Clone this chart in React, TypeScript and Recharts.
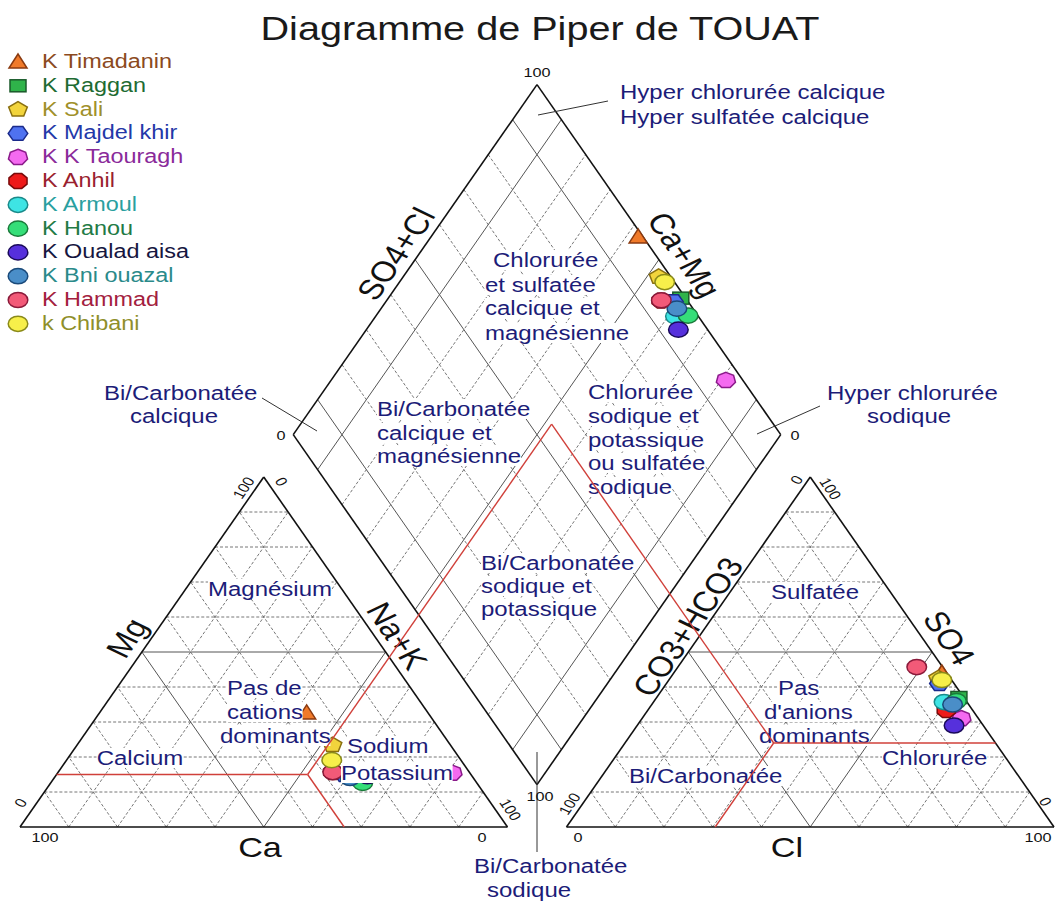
import { ReferenceLine, Scatter, ScatterChart, XAxis, YAxis } from 'recharts';

// ---- samples (% meq) ----
const sampleNames = [
  'K Timadanin', 'K Raggan', 'K Sali', 'K Majdel khir', 'K K Taouragh', 'K Anhil',
  'K Armoul', 'K Hanou', 'K Oualad aisa', 'K Bni ouazal', 'K Hammad', 'k Chibani',
];
const caPct = [24.9, 24.5, 24.2, 26, 3.6, 28, 24.5, 23.4, 21.5, 25.3, 28, 26.5];
const mgPct = [32.6, 15.5, 23.4, 15, 15.4, 15.7, 14, 12.6, 14.5, 14, 15.7, 19.1];
const naKPct = [42.5, 60, 52.4, 59, 81, 56.3, 61.5, 64, 64, 60.7, 56.3, 54.4];
const hco3Pct = [1, 1, 2.5, 3, 3.5, 5.4, 4.7, 2, 6, 3.3, 5.3, 2];
const so4Pct = [44, 37, 42.5, 41, 31, 33.4, 35.7, 36, 29, 35, 45.7, 42];
const clPct = [55, 62, 55, 56, 65.5, 61.2, 59.6, 62, 65, 61.7, 49, 56];

// classification limits (red lines)
const limitMg = 15;
const limitCa = 33.5;
const limitNaK = 51.5;
const limitSO4 = 24;
const limitCl = 30.5;
const limitHCO3 = 45.5;
const gridSteps = [10, 20, 30, 40, 50, 60, 70, 80, 90];
const diamondSolid = [10, 50, 90];

// ---- marker styles ----
const markerKind = ['triangle', 'square', 'pentagon', 'hexagon', 'heptagon', 'octagon', 'circle', 'circle', 'circle', 'circle', 'circle', 'circle'];
const markerFill = ['#f07a2a', '#2fb34a', '#f2d43c', '#4f72f0', '#f46af0', '#ee1a1a', '#3ee4e4', '#35de78', '#5630dc', '#4a8ec8', '#f25a78', '#f7ef4a'];
const markerStroke = ['#8a3a10', '#1a5a2a', '#8a7010', '#1a2a8a', '#8a1a8a', '#7a0a0a', '#1a8a8a', '#1a7a3a', '#1a0a5a', '#1a4a7a', '#8a1a3a', '#8a8a1a'];
const legendColor = ['#8b4a1e', '#1e6b32', '#a0902a', '#2438a8', '#8a2a9a', '#9a1f2f', '#2a9f9f', '#237a45', '#16163f', '#2a8a8a', '#a3203e', '#8f8f2a'];

// ---- geometry ----
const W = 1056;
const H = 904;
const ORIGIN_X = 20;
const BASE_Y = 827;
const PX_X = 4.875;
const PX_Y = 3.5;
const GAP = 12.1;
const X_DOMAIN = [-ORIGIN_X / PX_X, (W - ORIGIN_X) / PX_X];
const Y_DOMAIN = [-(H - BASE_Y) / PX_Y, BASE_Y / PX_Y];

type P = { x: number; y: number };
const cat = (ca: number, mg: number, nak: number): P => {
  const t = ca + mg + nak;
  return { x: ((nak + mg / 2) / t) * 100, y: (mg / t) * 100 };
};
const ani = (co3: number, so4: number, cl: number): P => {
  const t = co3 + so4 + cl;
  return { x: 100 + GAP + ((cl + so4 / 2) / t) * 100, y: (so4 / t) * 100 };
};
const dia = (nak: number, sc: number): P => ({ x: 50 + GAP / 2 + (nak + sc) / 2, y: 100 + GAP - nak + sc });

type Seg = { a: P; b: P; kind: 'dash' | 'mid' | 'edge' };
const segs: Seg[] = [];
gridSteps.forEach((v) => {
  const kind = v === 50 ? 'mid' : 'dash';
  segs.push({ a: cat(100 - v, v, 0), b: cat(0, v, 100 - v), kind });
  segs.push({ a: cat(v, 0, 100 - v), b: cat(v, 100 - v, 0), kind });
  segs.push({ a: cat(100 - v, 0, v), b: cat(0, 100 - v, v), kind });
  segs.push({ a: ani(100 - v, v, 0), b: ani(0, v, 100 - v), kind });
  segs.push({ a: ani(v, 0, 100 - v), b: ani(v, 100 - v, 0), kind });
  segs.push({ a: ani(100 - v, 0, v), b: ani(0, 100 - v, v), kind });
  const dk = diamondSolid.includes(v) ? 'mid' : 'dash';
  segs.push({ a: dia(v, 0), b: dia(v, 100), kind: dk });
  segs.push({ a: dia(0, v), b: dia(100, v), kind: dk });
});
[
  [cat(100, 0, 0), cat(0, 0, 100)], [cat(100, 0, 0), cat(0, 100, 0)], [cat(0, 100, 0), cat(0, 0, 100)],
  [ani(100, 0, 0), ani(0, 0, 100)], [ani(100, 0, 0), ani(0, 100, 0)], [ani(0, 100, 0), ani(0, 0, 100)],
  [dia(0, 0), dia(100, 0)], [dia(100, 0), dia(100, 100)], [dia(100, 100), dia(0, 100)], [dia(0, 100), dia(0, 0)],
].forEach(([a, b]) => segs.push({ a, b, kind: 'edge' }));

const J = cat(limitCa, limitMg, limitNaK);
const apex = dia(limitNaK, limitSO4 + limitCl);
const K = ani(limitHCO3, limitSO4, limitCl);
const redSegs: P[][] = [
  [cat(100 - limitMg, limitMg, 0), J], [J, cat(limitCa, 0, 100 - limitCa)], [J, apex], [apex, K],
  [K, ani(100 - limitCl, 0, limitCl)], [K, ani(0, limitSO4, 100 - limitSO4)],
];

const segStyle = {
  dash: { stroke: '#666', strokeWidth: 0.9, strokeDasharray: '3 2' },
  mid: { stroke: '#555', strokeWidth: 1 },
  edge: { stroke: '#111', strokeWidth: 1.6 },
};

const samplePoints = sampleNames.map((_, i) => [
  cat(caPct[i], mgPct[i], naKPct[i]),
  ani(hco3Pct[i], so4Pct[i], clPct[i]),
  dia(naKPct[i], so4Pct[i] + clPct[i]),
]);

function Marker({ kind, cx, cy, fill, stroke }: { kind: string; cx: number; cy: number; fill: string; stroke: string }) {
  const common = { fill, stroke, strokeWidth: 1.5 };
  if (kind === 'circle') return <ellipse cx={cx} cy={cy} rx={9.8} ry={7.6} {...common} />;
  if (kind === 'square') return <rect x={cx - 8} y={cy - 6} width={16} height={12} {...common} />;
  if (kind === 'triangle')
    return <polygon points={`${cx},${cy - 8} ${cx + 9},${cy + 6} ${cx - 9},${cy + 6}`} {...common} />;
  const n = kind === 'pentagon' ? 5 : kind === 'hexagon' ? 6 : kind === 'heptagon' ? 7 : 8;
  const off = n === 6 ? 0 : n === 8 ? 22.5 : -90;
  const pts = Array.from({ length: n }, (_, k) => {
    const ang = ((off + (k * 360) / n) * Math.PI) / 180;
    return `${cx + 9.8 * Math.cos(ang)},${cy + 8 * Math.sin(ang)}`;
  }).join(' ');
  return <polygon points={pts} {...common} />;
}

function Txt({
  x, y, text, size = 20, color = '#1c1c78', anchor = 'start', rotate = 0, bg = false,
}: { x: number; y: number; text: string; size?: number; color?: string; anchor?: string; rotate?: number; bg?: boolean }) {
  const tx = anchor === 'middle' ? '-50%' : '0';
  return (
    <div
      style={{
        position: 'absolute', left: x, top: y, transformOrigin: '0 0',
        transform: `scaleX(1.2) rotate(${rotate}deg) translate(${tx}, -50%)`,
        fontFamily: '"Liberation Sans", Arial, sans-serif', fontSize: size, lineHeight: 1,
        whiteSpace: 'nowrap', color, background: bg ? '#fff' : 'transparent',
      }}
    >
      {text}
    </div>
  );
}

const regionLabels: [string, number, number, string?][] = [
  ['Magnésium', 270, 589, 'middle'], ['Pas de', 227, 688], ['cations', 227, 712], ['dominants', 220, 736],
  ['Calcium', 140, 758, 'middle'], ['Sodium', 347, 746], ['Potassium', 341, 773],
  ['Chlorurée', 493, 260], ['et sulfatée', 485, 285], ['calcique et', 485, 308], ['magnésienne', 485, 333],
  ['Bi/Carbonatée', 377, 409], ['calcique et', 377, 433], ['magnésienne', 377, 456],
  ['Chlorurée', 588, 392], ['sodique et', 588, 416], ['potassique', 588, 440], ['ou sulfatée', 588, 463], ['sodique', 588, 487],
  ['Bi/Carbonatée', 481, 563], ['sodique et', 481, 586], ['potassique', 481, 609],
  ['Hyper chlorurée calcique', 620, 92], ['Hyper sulfatée calcique', 620, 117],
  ['Bi/Carbonatée', 104, 393], ['calcique', 130, 416], ['Hyper chlorurée', 827, 393], ['sodique', 867, 416],
  ['Bi/Carbonatée', 474, 866], ['sodique', 487, 890],
  ['Sulfatée', 771, 592], ['Pas', 778, 688], ["d'anions", 764, 712], ['dominants', 759, 736],
  ['Chlorurée', 882, 758], ['Bi/Carbonatée', 629, 776],
];

const axisLabels: [string, number, number, number][] = [
  ['Mg', 127, 638, -60], ['Na+K', 397, 636, 60], ['Ca', 260, 847, 0], ['Cl', 787, 847, 0],
  ['SO4', 949, 638, 60], ['CO3+HCO3', 688, 627, -60], ['SO4+Cl', 396, 254, -60], ['Ca+Mg', 684, 255, 60],
];

const tickLabels: [string, number, number, number][] = [
  ['100', 45, 838, 0], ['0', 482, 838, 0], ['0', 21, 803, -60], ['100', 244, 488, -60], ['0', 281, 482, 60], ['100', 510, 810, 60],
  ['0', 578, 838, 0], ['100', 1038, 838, 0], ['100', 570, 804, -60], ['0', 797, 480, -60], ['100', 830, 489, 60], ['0', 1045, 802, 60],
  ['100', 537, 73, 0], ['0', 281, 436, 0], ['0', 795, 436, 0], ['100', 540, 797, 0],
];

const leaders: [number, number, number, number][] = [
  [538, 115, 608, 101], [262, 398, 317, 431], [757, 434, 820, 406], [537, 752, 537, 852],
];

const layer = { position: 'absolute' as const, left: 0, top: 0 };
const chartMargin = { top: 0, right: 0, bottom: 0, left: 0 };

export default function App() {
  return (
    <div style={{ ...layer, width: W, height: H, background: '#fff' }}>
      <ScatterChart width={W} height={H} margin={chartMargin}>
        <XAxis type="number" dataKey="x" domain={X_DOMAIN} hide allowDataOverflow />
        <YAxis type="number" dataKey="y" domain={Y_DOMAIN} hide allowDataOverflow />
        {segs.map((s, i) => (
          <ReferenceLine key={i} segment={[s.a, s.b]} ifOverflow="visible" {...segStyle[s.kind]} />
        ))}
        {sampleNames.map((name, i) => (
          <Scatter
            key={name}
            name={name}
            data={samplePoints[i]}
            isAnimationActive={false}
            shape={(p: any) => (
              <Marker kind={markerKind[i]} cx={p.cx} cy={p.cy} fill={markerFill[i]} stroke={markerStroke[i]} />
            )}
          />
        ))}
      </ScatterChart>
      <svg width={W} height={H} style={{ ...layer, pointerEvents: 'none' }}>
        {leaders.map(([x1, y1, x2, y2], i) => (
          <line key={i} x1={x1} y1={y1} x2={x2} y2={y2} stroke="#333" strokeWidth={1} />
        ))}
        {sampleNames.map((name, i) => (
          <Marker key={name} kind={markerKind[i]} cx={18} cy={62 + i * 23.8} fill={markerFill[i]} stroke={markerStroke[i]} />
        ))}
      </svg>
      {sampleNames.map((name, i) => (
        <Txt key={name} x={42} y={62 + i * 23.8} text={name} size={19.5} color={legendColor[i]} />
      ))}
      {regionLabels.map(([t, x, y, a], i) => (
        <Txt key={i} x={x} y={y} text={t} anchor={a ?? 'start'} bg />
      ))}
      {axisLabels.map(([t, x, y, r], i) => (
        <Txt key={i} x={x} y={y} text={t} size={28.5} color="#111" anchor="middle" rotate={r} />
      ))}
      {tickLabels.map(([t, x, y, r], i) => (
        <Txt key={i} x={x} y={y} text={t} size={13.5} color="#111" anchor="middle" rotate={r} />
      ))}
      <Txt x={540} y={28} text="Diagramme de Piper de TOUAT" size={33} color="#1a1a1a" anchor="middle" />
      {/* classification lines sit above the label boxes */}
      <div style={{ ...layer, pointerEvents: 'none' }}>
        <ScatterChart width={W} height={H} margin={chartMargin}>
          <XAxis type="number" dataKey="x" domain={X_DOMAIN} hide allowDataOverflow />
          <YAxis type="number" dataKey="y" domain={Y_DOMAIN} hide allowDataOverflow />
          {redSegs.map(([a, b], i) => (
            <ReferenceLine key={i} segment={[a, b]} ifOverflow="visible" stroke="#d0403a" strokeWidth={1.4} />
          ))}
        </ScatterChart>
      </div>
    </div>
  );
}
